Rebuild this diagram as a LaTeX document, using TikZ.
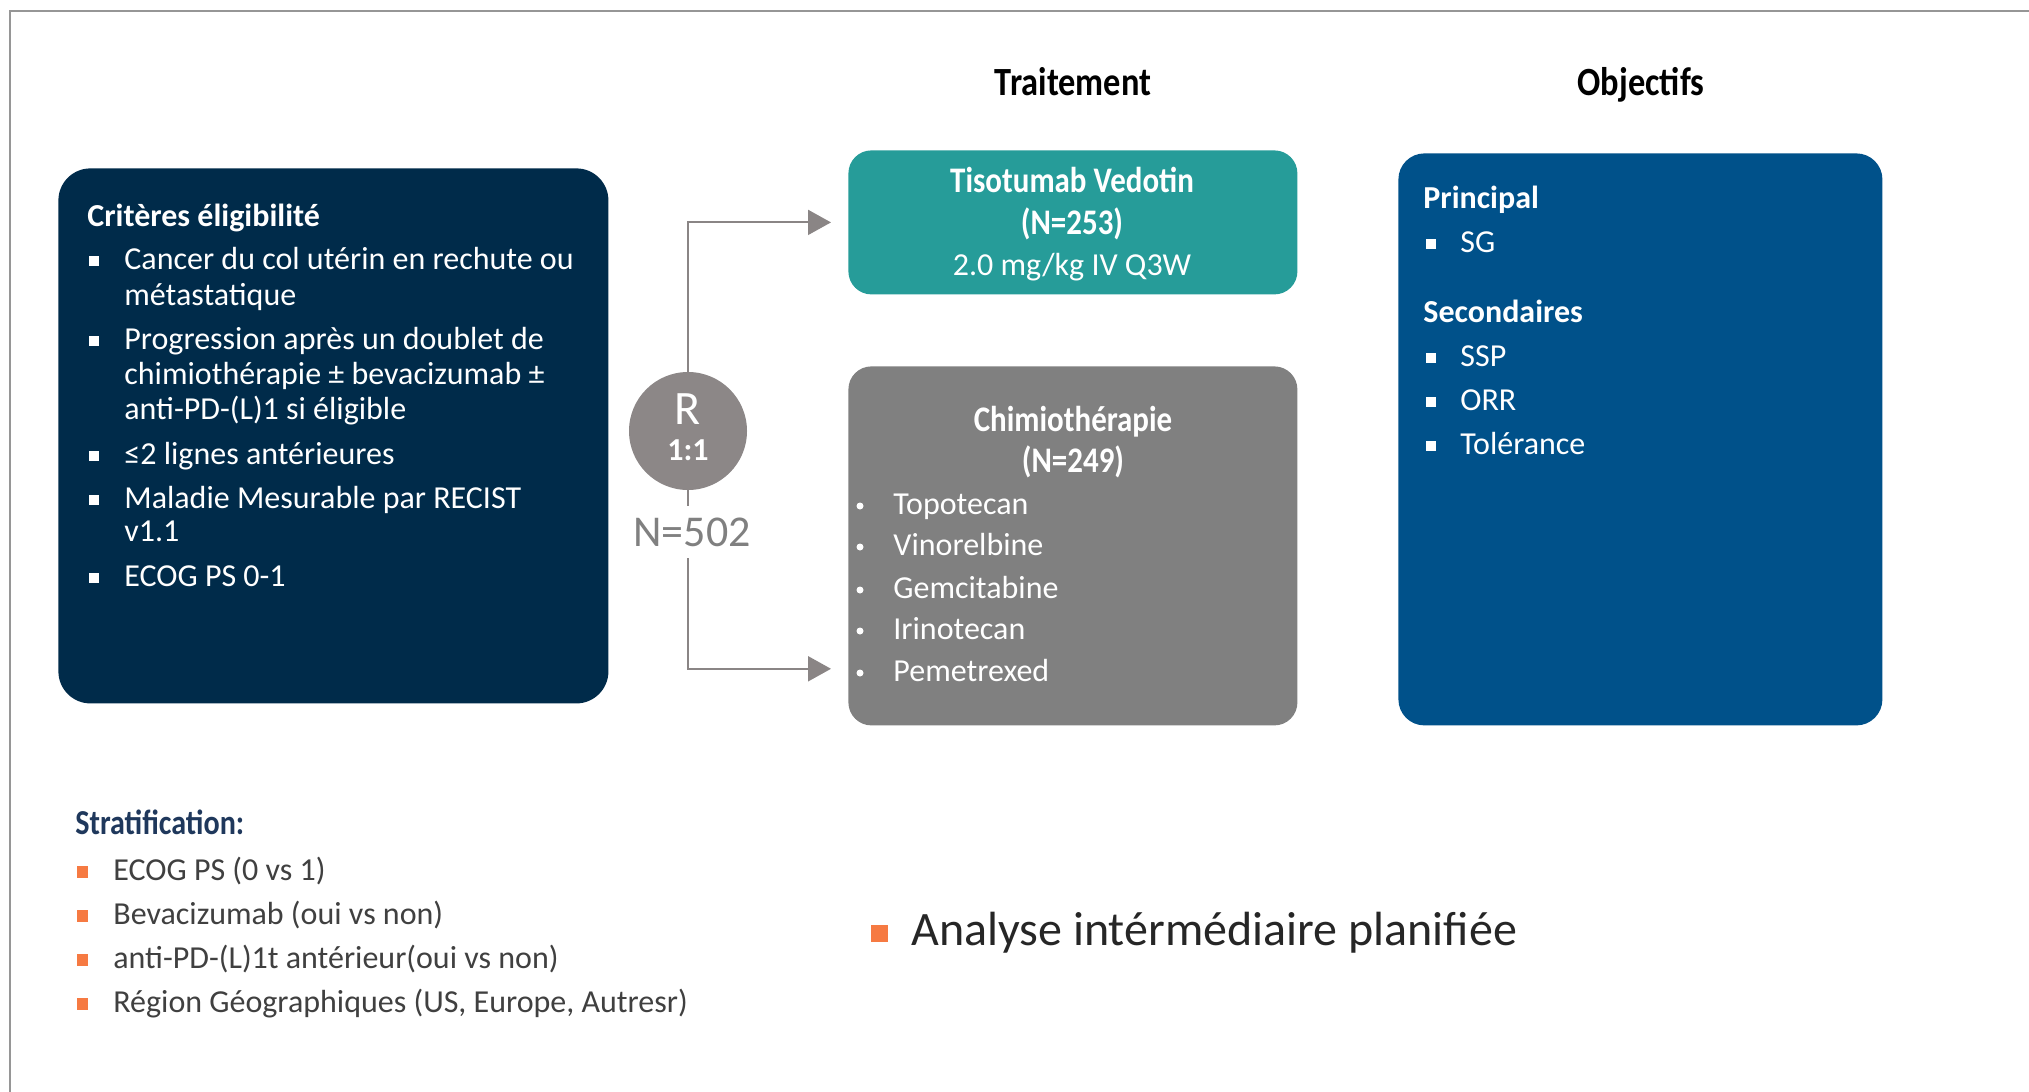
\documentclass[tikz,border=0pt]{standalone}
\usepackage{fontspec}
\setmainfont{Carlito}
\newfontfamily\condbf[FakeStretch=0.86]{Carlito Bold}
\usetikzlibrary{arrows.meta}
\definecolor{navybox}{RGB}{0,43,74}
\definecolor{tealbox}{RGB}{38,156,153}
\definecolor{graybox}{RGB}{128,128,128}
\definecolor{objbox}{RGB}{0,81,138}
\definecolor{circgray}{RGB}{140,135,135}
\definecolor{conngray}{RGB}{138,133,133}
\definecolor{framegray}{RGB}{150,150,150}
\definecolor{navytxt}{RGB}{31,56,92}
\definecolor{orangebul}{RGB}{246,122,66}
\definecolor{darktxt}{RGB}{64,64,64}
\tikzset{
  box/.style={fill=#1, draw=none, anchor=north west, inner sep=0pt},
  tx/.style={inner sep=0pt, anchor=base west, text=white, font=\fontsize{16}{18}\selectfont},
  txc/.style={inner sep=0pt, anchor=base, text=white, font=\fontsize{16}{18}\selectfont},
  hdc/.style={inner sep=0pt, anchor=base, text=white, font=\fontsize{18}{20}\condbf},
  hd/.style={inner sep=0pt, anchor=base west, text=white, font=\fontsize{16}{18}\selectfont\bfseries},
  sq/.style={fill=white, draw=none, inner sep=0pt, minimum size=5pt},
  dot/.style={circle, fill=white, draw=none, inner sep=0pt, minimum size=3.5pt},
  osq/.style={fill=orangebul, draw=none, inner sep=0pt, minimum width=5.5pt, minimum height=6pt},
  st/.style={inner sep=0pt, anchor=base west, text=darktxt, font=\fontsize{16}{18}\selectfont},
  conn/.style={draw=conngray, line width=1pt, -{Triangle[length=11.5pt,width=12.5pt]}},
}
\begin{document}
\begin{tikzpicture}[x=0.5pt,y=-0.5pt]
\useasboundingbox (0,0) rectangle (2029,1092);
\fill[white] (0,0) rectangle (2029,1092);
\draw[framegray, line width=1.2pt] (10,1092) -- (10,11) -- (2029,11);

% headers
\node[inner sep=0pt, anchor=base, font=\fontsize{20}{22}\condbf] (hT) at (1073,95) {Traitement};
\node[inner sep=0pt, anchor=base, font=\fontsize{20}{22}\condbf] (hO) at (1641,95) {Objectifs};

% boxes
\node[box=navybox, rounded corners=16pt, minimum width=275pt, minimum height=267.5pt] (crit) at (58,168) {};
\node[box=tealbox, rounded corners=11.5pt, minimum width=224.5pt, minimum height=72pt] (tv) at (848,150) {};
\node[box=graybox, rounded corners=11.5pt, minimum width=224.5pt, minimum height=179.5pt] (gr) at (848,366) {};
\node[box=objbox, rounded corners=13pt, minimum width=242pt, minimum height=286pt] (obj) at (1398,153) {};

% criteria
\node[hd] (ch) at (87,226) {Critères éligibilité};
\node[sq] (b1) at (94,261) {};
\node[tx] (c1a) at (124,269) {Cancer du col utérin en rechute ou};
\node[tx] (c1b) at (124,305) {métastatique};
\node[sq] (b2) at (94,341) {};
\node[tx] (c2a) at (124,349) {Progression après un doublet de};
\node[tx] (c2b) at (124,384) {chimiothérapie ± bevacizumab ±};
\node[tx] (c2c) at (124,419) {anti-PD-(L)1 si éligible};
\node[sq] (b3) at (94,456) {};
\node[tx] (c3) at (124,464) {≤2 lignes antérieures};
\node[sq] (b4) at (94,500) {};
\node[tx] (c4a) at (124,508) {Maladie Mesurable par RECIST};
\node[tx] (c4b) at (124,541) {v1.1};
\node[sq] (b5) at (94,578) {};
\node[tx] (c5) at (124,586) {ECOG PS 0-1};

% randomisation
\node[circle, fill=circgray, draw=none, minimum size=59pt, inner sep=0pt] (R) at (688,431) {};
\node[inner sep=0pt, anchor=base, text=white, font=\fontsize{24}{26}\selectfont] (Rr) at (688,424) {R};
\node[inner sep=0pt, anchor=base, text=white, font=\fontsize{16}{18}\selectfont\bfseries] (Rq) at (688,460) {1:1};
\draw[conn] (R.north) |- ([xshift=-8.5pt]tv.west);
\draw[conn] (R.south) |- ([xshift=-8.5pt, yshift=28.5pt]gr.south west);
\node[fill=white, inner xsep=2pt, inner ysep=6pt, text=graybox, font=\fontsize{22}{24}\selectfont] (N) at (692,532) {N=502};

% TV
\node[hdc] (t1) at (1072,192) {Tisotumab Vedotin};
\node[hdc] (t2) at (1072,234) {(N=253)};
\node[txc] (t3) at (1072,275) {2.0 mg/kg IV Q3W};

% chemo
\node[hdc] (g1) at (1073,431) {Chimiothérapie};
\node[hdc] (g2) at (1073,472) {(N=249)};
\node[dot] (d1) at (860,506) {};
\node[tx] (g3) at (893,514) {Topotecan};
\node[dot] (d2) at (860,547) {};
\node[tx] (g4) at (893,555) {Vinorelbine};
\node[dot] (d3) at (860,590) {};
\node[tx] (g5) at (893,598) {Gemcitabine};
\node[dot] (d4) at (860,631) {};
\node[tx] (g6) at (893,639) {Irinotecan};
\node[dot] (d5) at (860,673) {};
\node[tx] (g7) at (893,681) {Pemetrexed};

% objectives
\node[hd] (o1) at (1423,208) {Principal};
\node[sq] (ob1) at (1431,244) {};
\node[tx] (o2) at (1460,252) {SG};
\node[hd] (o3) at (1423,322) {Secondaires};
\node[sq] (ob2) at (1431,358) {};
\node[tx] (o4) at (1460,366) {SSP};
\node[sq] (ob3) at (1431,402) {};
\node[tx] (o5) at (1460,410) {ORR};
\node[sq] (ob4) at (1431,446) {};
\node[tx] (o6) at (1460,454) {Tolérance};

% stratification
\node[inner sep=0pt, anchor=base west, text=navytxt, font=\fontsize{17.5}{19}\condbf] (s0) at (75,834) {Stratification:};
\node[osq] (sb1) at (82,872) {};
\node[st] (s1) at (113,880) {ECOG PS (0 vs 1)};
\node[osq] (sb2) at (82,916) {};
\node[st] (s2) at (113,924) {Bevacizumab (oui vs non)};
\node[osq] (sb3) at (82,960) {};
\node[st] (s3) at (113,968) {anti-PD-(L)1t antérieur(oui vs non)};
\node[osq] (sb4) at (82,1004) {};
\node[st] (s4) at (113,1012) {Région Géographiques (US, Europe, Autresr)};

% analyse
\node[osq, minimum size=8.5pt] (ab) at (879,933) {};
\node[inner sep=0pt, anchor=base west, text=black!85, font=\fontsize{24}{28}\selectfont] (an) at (911,945) {Analyse intérmédiaire planifiée};
\end{tikzpicture}
\end{document}
